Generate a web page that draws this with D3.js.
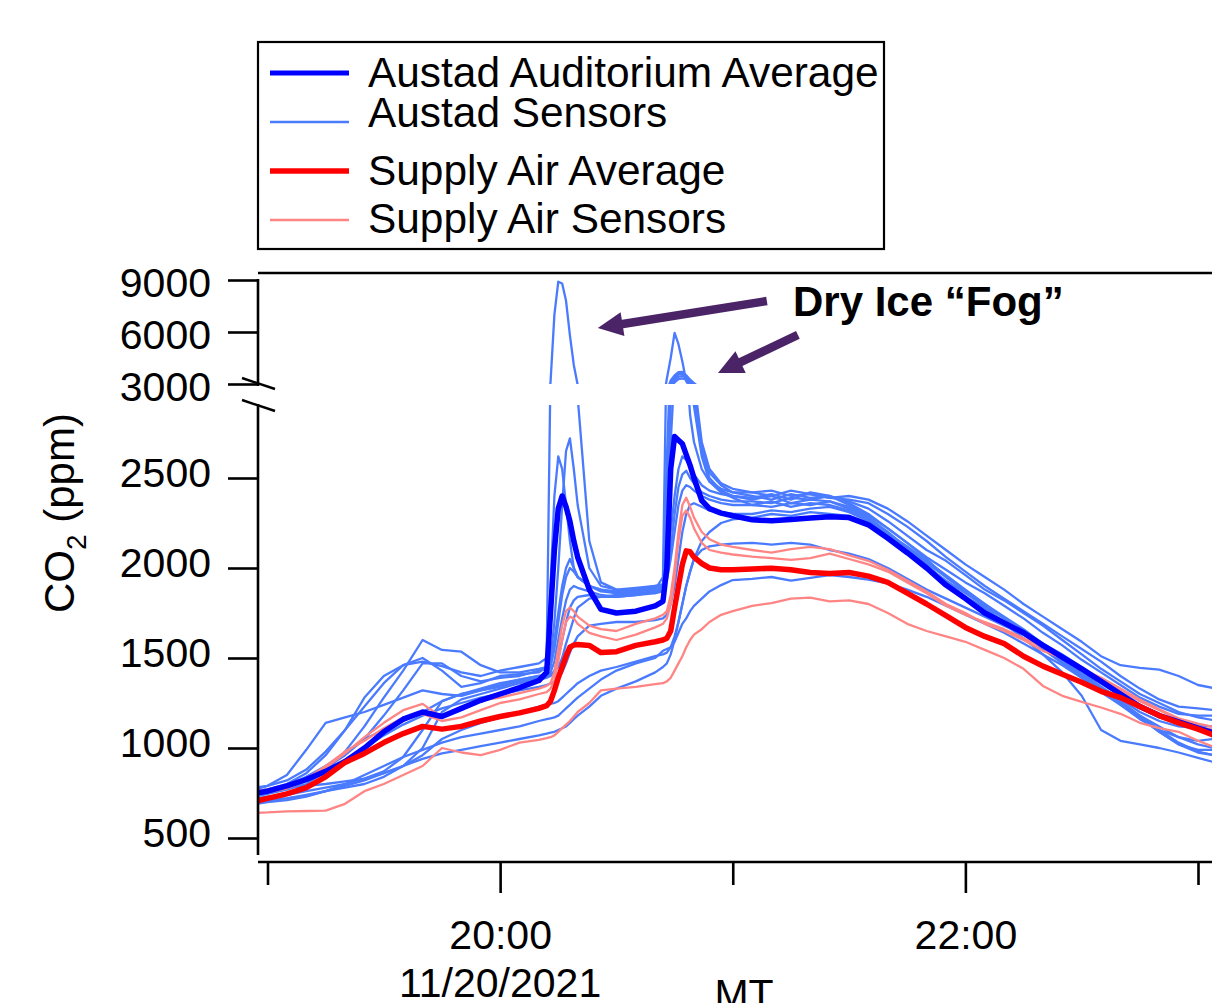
<!DOCTYPE html>
<html>
<head>
<meta charset="utf-8">
<script src="https://cdn.jsdelivr.net/npm/d3@7"></script>
<style>
  body { margin: 0; background: #fff; }
  svg { display: block; }
  text { font-family: "Liberation Sans", Arial, Helvetica, sans-serif; fill: #000; }
</style>
</head>
<body>
<svg id="chart" width="1212" height="1003"></svg>
<script>
// Minutes after 19:00 MT, 11/20/2021
const timesMin = [
  -3, 0, 5, 10, 15, 20, 25, 30, 35, 40, 45, 50, 55, 60, 65, 70,
  72, 73, 74, 75, 76, 77, 78, 79, 80, 83, 86, 90, 95, 100,
  102, 103, 104, 105, 106, 107, 108, 109, 110, 112, 114, 117, 120,
  125, 130, 135, 140, 145, 150, 155, 160, 165, 170, 175, 180, 185, 190, 195, 200, 205, 210, 215, 220, 225, 230, 235, 240, 244
];

// CO2 (ppm)
const austadAverage = [
  750, 760, 790, 825, 870, 925, 1000, 1090, 1160, 1200, 1175, 1220, 1265, 1300, 1335, 1375,
  1420, 1750, 2100, 2330, 2400, 2340, 2260, 2150, 2060, 1880, 1770, 1750, 1760, 1790,
  1815, 2000, 2550, 2730, 2710, 2690, 2630, 2570, 2500, 2375, 2330, 2305, 2290,
  2268, 2262, 2270, 2278, 2285, 2280, 2240, 2165, 2085, 2000, 1905, 1830, 1750, 1695, 1640, 1570, 1505, 1440, 1370, 1300, 1230, 1180, 1145, 1110, 1085
];

const supplyAverage = [
  705, 720, 745, 780, 840, 920, 970, 1030, 1080, 1120, 1105, 1120, 1150, 1175, 1195, 1220,
  1235, 1260, 1320, 1390, 1450, 1510, 1560, 1572, 1575, 1570, 1530, 1535, 1570, 1590,
  1600, 1610, 1650, 1780, 1900, 2020, 2095, 2090, 2060, 2025, 2000, 1990, 1990,
  1995, 1998, 1990, 1975, 1970, 1975, 1955, 1920, 1860, 1800, 1735, 1670, 1620, 1580, 1510, 1455, 1410, 1365, 1315, 1280, 1230, 1180, 1140, 1105, 1072
];

const austadSensor1 = [
  760, 770, 800, 860, 960, 1100, 1280, 1400, 1460, 1480, 1455, 1420, 1400, 1430, 1450, 1470,
  1500, 3100, 7000, 8900, 8800, 7800, 5800, 4100, 2950, 2150, 1920, 1880, 1890, 1900,
  1910, 2000, 2200, 2400, 2550, 2620, 2600, 2560, 2520, 2460, 2430, 2410, 2400,
  2390, 2410, 2380, 2420, 2400, 2370, 2330, 2260, 2180, 2100, 2040, 1960, 1880, 1820, 1750, 1680, 1600, 1520, 1440, 1370, 1300, 1250, 1200, 1170, 1155
];
const austadSensor2 = [
  740, 750, 770, 800, 870, 980, 1120, 1280, 1430, 1600, 1545, 1535, 1460, 1420, 1420, 1440,
  1450, 1480, 1600, 1750, 1900, 2000, 2050, 2000, 1950, 1900, 1870, 1860, 1870, 1880,
  1950, 3300, 4500, 5950, 5300, 4300, 3150, 2850, 2700, 2550, 2480, 2440, 2420,
  2420, 2400, 2430, 2410, 2390, 2400, 2380, 2330, 2260, 2180, 2100, 2020, 1950, 1880, 1800, 1730, 1660, 1590, 1510, 1460, 1445, 1435, 1400, 1350, 1333
];
const austadSensor3 = [
  780, 790, 820, 880, 980, 1100, 1230, 1360, 1460, 1500, 1430, 1340, 1360, 1400, 1410, 1420,
  1450, 1900, 2400, 2620, 2550, 2350, 2150, 2000, 1950, 1900, 1880, 1870, 1880, 1900,
  1905, 1950, 2100, 2300, 2450, 2520, 2540, 2500, 2470, 2420, 2400, 2380, 2370,
  2370, 2360, 2390, 2380, 2400, 2350, 2290, 2220, 2140, 2060, 1990, 1920, 1860, 1790, 1720, 1640, 1570, 1490, 1420, 1350, 1280, 1230, 1190, 1180, 1180
];
const austadSensor4 = [
  750, 760, 790, 830, 890, 960, 1050, 1180, 1320, 1470, 1470, 1400, 1370, 1390, 1400, 1430,
  1440, 1500, 1700, 2000, 2350, 2650, 2720, 2550, 2350, 2000, 1900, 1880, 1870, 1890,
  1895, 1930, 2050, 2200, 2350, 2430, 2460, 2450, 2430, 2400, 2380, 2360, 2350,
  2350, 2340, 2360, 2350, 2370, 2330, 2270, 2190, 2100, 2010, 1930, 1860, 1790, 1720, 1650, 1580, 1500, 1420, 1340, 1270, 1200, 1150, 1120, 1110, 1100
];
const austadSensor5 = [
  770, 790, 850, 990, 1140, 1170, 1200, 1240, 1280, 1320, 1300, 1290, 1320, 1350, 1380, 1400,
  1410, 1450, 1550, 1700, 1850, 1950, 2000, 1980, 1950, 1900, 1880, 1860, 1860, 1870,
  1900, 2600, 3200, 3500, 3680, 3700, 3500, 3250, 3050, 2700, 2550, 2470, 2440,
  2420, 2430, 2400, 2410, 2390, 2380, 2360, 2300, 2230, 2150, 2060, 1980, 1900, 1830, 1760, 1690, 1620, 1550, 1480, 1400, 1330, 1270, 1230, 1220, 1211
];
const austadSensor6 = [
  720, 730, 740, 760, 780, 800, 830, 870, 950, 1100, 1260, 1300, 1330, 1360, 1380, 1400,
  1410, 1420, 1480, 1600, 1720, 1820, 1880, 1900, 1890, 1870, 1850, 1840, 1850, 1860,
  1880, 2400, 3050, 3350, 3560, 3600, 3450, 3200, 3000, 2680, 2530, 2460, 2420,
  2400, 2380, 2410, 2390, 2400, 2360, 2300, 2220, 2140, 2050, 1950, 1870, 1790, 1720, 1640, 1560, 1480, 1400, 1320, 1240, 1160, 1100, 1060, 1040, 1050
];
const austadSensor7 = [
  700, 710, 720, 740, 760, 780, 800, 840, 900, 1000, 1200, 1270, 1300, 1330, 1360, 1380,
  1390, 1400, 1430, 1500, 1600, 1700, 1780, 1820, 1840, 1850, 1840, 1840, 1850, 1870,
  1880, 2200, 2900, 3250, 3420, 3460, 3380, 3150, 2950, 2650, 2500, 2430, 2400,
  2380, 2400, 2360, 2380, 2370, 2340, 2280, 2200, 2110, 2020, 1920, 1840, 1780, 1700, 1630, 1550, 1470, 1390, 1310, 1240, 1170, 1090, 1020, 990, 989
];
const austadSensor8 = [
  760, 770, 780, 790, 800, 815, 830, 860, 900, 960, 1050, 1100, 1140, 1170, 1200, 1230,
  1240, 1245, 1250, 1260, 1280, 1300, 1320, 1340, 1360, 1400, 1430, 1450, 1480, 1510,
  1520, 1530, 1560, 1620, 1700, 1800, 1900, 1980, 2050, 2100, 2120, 2130, 2135,
  2140, 2130, 2140, 2130, 2100, 2080, 2050, 2000, 1940, 1880, 1830, 1780, 1730, 1680, 1630, 1580, 1520, 1450, 1380, 1300, 1240, 1180, 1140, 1125, 1120
];
const austadSensor9 = [
  700, 710, 720, 735, 760, 800, 850, 900, 950, 990, 1030, 1060, 1080, 1100, 1120, 1150,
  1160, 1165, 1170, 1180, 1200, 1220, 1240, 1260, 1280, 1330, 1380, 1430, 1470, 1500,
  1540, 1550, 1560, 1590, 1640, 1690, 1720, 1760, 1790, 1830, 1870, 1905, 1933,
  1940, 1950, 1930, 1945, 1960, 1950, 1935, 1915, 1880, 1840, 1790, 1740, 1690, 1640, 1580, 1520, 1460, 1390, 1320, 1250, 1180, 1120, 1060, 1020, 1000
];
const austadSensor10 = [
  690, 700, 710, 730, 760, 790, 820, 860, 900, 940, 970, 990, 1010, 1030, 1050, 1070,
  1080, 1085, 1090, 1100, 1110, 1120, 1140, 1160, 1180, 1230, 1290, 1330, 1370, 1420,
  1450, 1470, 1520, 1600, 1700, 1800, 1900, 1980, 2050, 2150, 2200, 2250, 2270,
  2280, 2300, 2290, 2310, 2300, 2290, 2250, 2190, 2120, 2040, 1960, 1880, 1800, 1720, 1650, 1570, 1490, 1410, 1330, 1250, 1170, 1090, 1020, 975, 961
];
const austadSensor11 = [
  750, 760, 790, 840, 900, 970, 1050, 1100, 1150, 1200, 1260, 1300, 1320, 1340, 1370, 1390,
  1400, 1410, 1420, 1450, 1500, 1580, 1650, 1720, 1780, 1830, 1840, 1850, 1860, 1860,
  1870, 2100, 2700, 3100, 3280, 3320, 3250, 3050, 2900, 2620, 2480, 2420, 2390,
  2350, 2370, 2340, 2360, 2350, 2320, 2260, 2180, 2090, 2000, 1920, 1840, 1770, 1690, 1610, 1520, 1420, 1290, 1100, 1040, 1020, 1000, 975, 945, 922
];
const austadSensor12 = [
  730, 745, 770, 815, 870, 930, 1000, 1070, 1130, 1180, 1220, 1250, 1280, 1300, 1320, 1340,
  1350, 1360, 1370, 1390, 1420, 1470, 1530, 1580, 1620, 1680, 1690, 1700, 1700, 1710,
  1720, 1740, 1800, 1900, 2050, 2200, 2300, 2350, 2360, 2340, 2320, 2310, 2300,
  2300, 2320, 2310, 2330, 2340, 2310, 2260, 2190, 2110, 2030, 1950, 1870, 1800, 1730, 1660, 1580, 1500, 1420, 1340, 1260, 1180, 1100, 1030, 980, 960
];

const supplySensor1 = [
  640, 642, 648, 650, 652, 690, 760, 800, 850, 900, 1000, 975, 960, 990, 1030, 1045,
  1055, 1060, 1070, 1090, 1110, 1130, 1150, 1175, 1200, 1250, 1320, 1330, 1340, 1355,
  1360, 1370, 1390, 1430, 1470, 1510, 1560, 1600, 1630, 1660, 1700, 1740, 1760,
  1790, 1805, 1830, 1835, 1815, 1820, 1800, 1750, 1690, 1650, 1620, 1590, 1545, 1500, 1440, 1345, 1290, 1256, 1225, 1190, 1140, 1110, 1090, 1040, 1006
];
const supplySensor2 = [
  745, 755, 775, 820, 890, 970, 1060, 1140, 1210, 1245, 1170, 1220, 1265, 1280, 1305, 1330,
  1345, 1360, 1420, 1550, 1680, 1760, 1780, 1760, 1730, 1680, 1660, 1650, 1690, 1720,
  1740, 1760, 1850, 2000, 2200, 2350, 2390, 2340, 2280, 2200, 2160, 2130, 2117,
  2100, 2085, 2105, 2117, 2105, 2070, 2040, 1990, 1930, 1870, 1800, 1750, 1690, 1650, 1600, 1540, 1500, 1440, 1390, 1330, 1270, 1215, 1165, 1135, 1117
];
const supplySensor3 = [
  760, 770, 790, 830, 900, 980, 1040, 1110, 1170, 1190, 1150, 1170, 1210, 1250, 1270, 1300,
  1310, 1330, 1380, 1480, 1600, 1700, 1730, 1720, 1690, 1640, 1620, 1600, 1630, 1670,
  1690, 1720, 1800, 1950, 2150, 2290, 2320, 2280, 2220, 2140, 2100, 2085, 2075,
  2063, 2055, 2045, 2055, 2080, 2050, 2020, 1980, 1920, 1860, 1790, 1740, 1700, 1660, 1610, 1560, 1500, 1440, 1380, 1320, 1260, 1210, 1160, 1120, 1100
];

const austadSensors = [austadSensor1, austadSensor2, austadSensor3, austadSensor4, austadSensor5, austadSensor6,
  austadSensor7, austadSensor8, austadSensor9, austadSensor10, austadSensor11, austadSensor12];
const supplySensors = [supplySensor1, supplySensor2, supplySensor3];

const lowerTicks = [500, 1000, 1500, 2000, 2500];
const upperTicks = [3000, 6000, 9000];
const hourTicks = [0, 60, 120, 180, 240];          // minutes after 19:00
const labelledHours = [60, 180];                    // 20:00 and 22:00
const dateLabel = "11/20/2021";
const zoneLabel = "MT";

const legendItems = [
  { label: "Austad Auditorium Average", color: "#0000ff", width: 5 },
  { label: "Austad Sensors", color: "#4a7bff", width: 2.5 },
  { label: "Supply Air Average", color: "#ff0000", width: 5.5 },
  { label: "Supply Air Sensors", color: "#ff8585", width: 2.5 }
];

const fogLabel = "Dry Ice \u201CFog\u201D";
// arrows: [start minute, start ppm] -> [tip minute, tip ppm] on the upper scale
const fogArrows = [
  { from: [128.8, 7790], to: [85.2, 6230] },
  { from: [136.8, 5830], to: [116.2, 3640] }
];

// ---------- scales ----------
const svg = d3.select("#chart");
const W = 1212;
const start = new Date(2021, 10, 20, 19, 0);
const toDate = m => new Date(start.getTime() + m * 60000);

const plotLeft = 258, plotRight = W;
const x = d3.scaleTime().domain([toDate(0), toDate(240)]).range([267.5, 1198]);
const yLow = d3.scaleLinear().domain([500, 2500]).range([838, 478]);
const yHigh = d3.scaleLinear().domain([3000, 9000]).range([384, 280]);

const lowerTop = 405, lowerBottom = 862;
const upperTop = 273, upperBottom = 384;

const defs = svg.append("defs");
defs.append("clipPath").attr("id", "clipLow").append("rect")
  .attr("x", plotLeft).attr("y", lowerTop).attr("width", plotRight - plotLeft + 10).attr("height", lowerBottom - lowerTop - 2);
defs.append("clipPath").attr("id", "clipHigh").append("rect")
  .attr("x", plotLeft).attr("y", upperTop + 2).attr("width", plotRight - plotLeft + 10).attr("height", upperBottom - upperTop - 2);

// ---------- series ----------
const panels = [
  { y: yLow, clip: "url(#clipLow)" },
  { y: yHigh, clip: "url(#clipHigh)" }
];
const series = [
  ...austadSensors.map(v => ({ values: v, color: legendItems[1].color, width: 2.3 })),
  ...supplySensors.map(v => ({ values: v, color: legendItems[3].color, width: 2.3 })),
  { values: austadAverage, color: legendItems[0].color, width: 5.5 },
  { values: supplyAverage, color: legendItems[2].color, width: 5.5 }
];

panels.forEach(p => {
  const line = d3.line()
    .x((d, i) => x(toDate(timesMin[i])))
    .y(d => p.y(d));
  const g = svg.append("g").attr("clip-path", p.clip);
  g.selectAll("path").data(series).join("path")
    .attr("d", s => line(s.values))
    .attr("fill", "none")
    .attr("stroke", s => s.color)
    .attr("stroke-width", s => s.width)
    .attr("stroke-linejoin", "round")
    .attr("stroke-linecap", "butt");
});

// ---------- axes ----------
const axisColor = "#000";
const axW = 2.6;

function styleAxis(g, fontSize) {
  g.select(".domain").remove();
  g.selectAll(".tick line").attr("stroke", axisColor).attr("stroke-width", axW);
  g.selectAll(".tick text").attr("font-size", fontSize).attr("font-family", '"Liberation Sans", Arial, sans-serif').attr("fill", "#000");
}

const gLow = svg.append("g").attr("transform", `translate(${plotLeft},0)`)
  .call(d3.axisLeft(yLow).tickValues(lowerTicks).tickSize(30).tickPadding(17).tickFormat(d3.format("d")));
styleAxis(gLow, 41);
gLow.selectAll(".tick text").attr("dy", 8);

const gHigh = svg.append("g").attr("transform", `translate(${plotLeft},0)`)
  .call(d3.axisLeft(yHigh).tickValues(upperTicks).tickSize(30).tickPadding(17).tickFormat(d3.format("d")));
styleAxis(gHigh, 41);
gHigh.selectAll(".tick text").attr("dy", 16);

// axis spines (broken)
svg.append("line").attr("x1", plotLeft).attr("x2", plotLeft).attr("y1", yHigh(9000) - 1).attr("y2", 386)
  .attr("stroke", axisColor).attr("stroke-width", axW);
svg.append("line").attr("x1", plotLeft).attr("x2", plotLeft).attr("y1", 404).attr("y2", 855)
  .attr("stroke", axisColor).attr("stroke-width", axW);
// break marks
[[378, 389], [400, 411]].forEach(([a, b]) => {
  svg.append("line").attr("x1", 242).attr("y1", a).attr("x2", 275).attr("y2", b)
    .attr("stroke", axisColor).attr("stroke-width", 2.4);
});
// top frame line
svg.append("line").attr("x1", plotLeft).attr("x2", plotRight).attr("y1", upperTop).attr("y2", upperTop)
  .attr("stroke", axisColor).attr("stroke-width", axW);

// x axis
const gx = svg.append("g").attr("transform", `translate(0,${lowerBottom})`)
  .call(d3.axisBottom(x).tickValues(hourTicks.map(toDate)).tickSize(23).tickPadding(0)
    .tickFormat(d => labelledHours.includes((d - start) / 60000) ? d3.timeFormat("%H:%M")(d) : ""));
styleAxis(gx, 41);
gx.selectAll(".tick line").attr("y2", d => labelledHours.includes((d - start) / 60000) ? 31 : 23);
gx.selectAll(".tick text").attr("y", 87).attr("dy", 0);
svg.append("line").attr("x1", plotLeft).attr("x2", plotRight).attr("y1", lowerBottom).attr("y2", lowerBottom)
  .attr("stroke", axisColor).attr("stroke-width", axW);

svg.append("text").attr("x", x(toDate(60))).attr("y", 997).attr("text-anchor", "middle")
  .attr("font-size", 41).text(dateLabel);
svg.append("text").attr("x", 744).attr("y", 1008).attr("text-anchor", "middle")
  .attr("font-size", 41).text(zoneLabel);

// y axis title
const yt = svg.append("text").attr("transform", "translate(74,513) rotate(-90)")
  .attr("text-anchor", "middle").attr("font-size", 42);
yt.append("tspan").text("CO");
yt.append("tspan").attr("font-size", 28).attr("dy", 12).text("2");
yt.append("tspan").attr("dy", -12).text(" (ppm)");

// ---------- legend ----------
const lg = svg.append("g");
lg.append("rect").attr("x", 258).attr("y", 42).attr("width", 626).attr("height", 207)
  .attr("fill", "#fff").attr("stroke", "#000").attr("stroke-width", 2.2);
const legendRows = [
  { lineY: 73, textY: 87 },
  { lineY: 122, textY: 127 },
  { lineY: 171, textY: 185 },
  { lineY: 220, textY: 233 }
];
legendItems.forEach((it, i) => {
  const r = legendRows[i];
  lg.append("line").attr("x1", 270).attr("x2", 349).attr("y1", r.lineY).attr("y2", r.lineY)
    .attr("stroke", it.color).attr("stroke-width", it.width);
  lg.append("text").attr("x", 368).attr("y", r.textY).attr("font-size", 42.4).text(it.label);
});

// ---------- annotation ----------
const purple = "#4b2468";
svg.append("text").attr("x", 793).attr("y", 316).attr("font-size", 42).attr("font-weight", "bold")
  .text(fogLabel);
fogArrows.forEach(a => {
  const x1 = x(toDate(a.from[0])), y1 = yHigh(a.from[1]);
  const x2 = x(toDate(a.to[0])), y2 = yHigh(a.to[1]);
  const dx = x2 - x1, dy = y2 - y1, L = Math.hypot(dx, dy), ux = dx / L, uy = dy / L;
  const hl = 25, hw = 12;
  const bx = x2 - ux * hl, by = y2 - uy * hl;
  svg.append("line").attr("x1", x1).attr("y1", y1).attr("x2", bx + ux * 3).attr("y2", by + uy * 3)
    .attr("stroke", purple).attr("stroke-width", 8.5);
  svg.append("path")
    .attr("d", `M${x2},${y2}L${bx - uy * hw},${by + ux * hw}L${bx + uy * hw},${by - ux * hw}Z`)
    .attr("fill", purple);
});
</script>
</body>
</html>
